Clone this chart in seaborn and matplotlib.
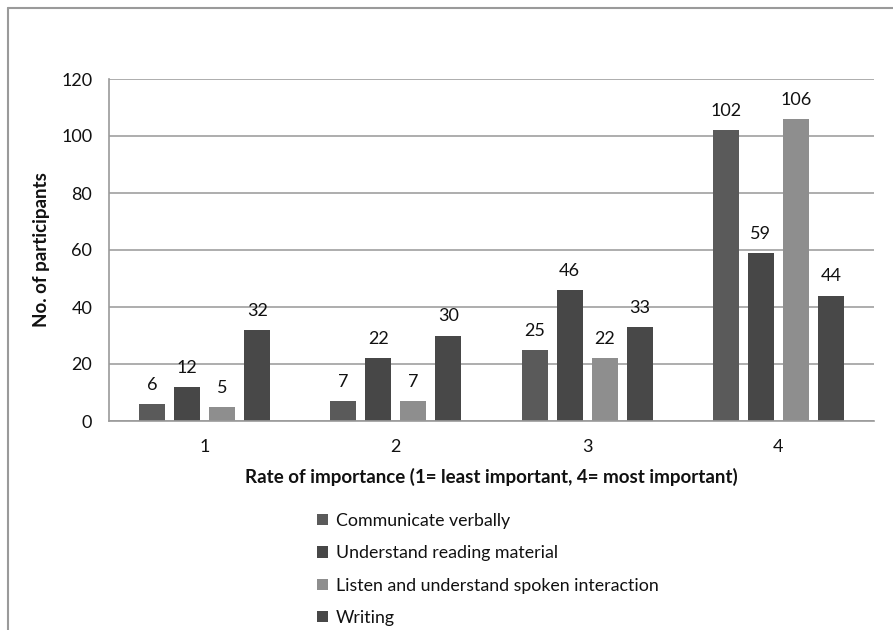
import matplotlib
matplotlib.use("Agg")
import matplotlib.pyplot as plt
from matplotlib.lines import Line2D
import seaborn as sns
import pandas as pd

categories = ["1", "2", "3", "4"]
series_names = ["Communicate verbally", "Understand reading material",
                "Listen and understand spoken interaction", "Writing"]
communicate = [6, 7, 25, 102]
reading = [12, 22, 46, 59]
listen = [5, 7, 22, 106]
writing = [32, 30, 33, 44]
colors = ["#5a5a5a", "#474747", "#8e8e8e", "#484848"]

rows = []
for name, vals in zip(series_names, [communicate, reading, listen, writing]):
    for c, v in zip(categories, vals):
        rows.append({"cat": c, "series": name, "value": v})
df = pd.DataFrame(rows)

sns.set_theme(style="white")
plt.rcParams['font.family'] = ['Lato', 'DejaVu Sans']

fig = plt.figure(figsize=(8.93, 6.3), dpi=100)
ax = fig.add_axes([109/893, 1-421/630, (874-109)/893, (421-79)/630])

sns.barplot(data=df, x="cat", y="value", hue="series", order=categories,
            hue_order=series_names, palette=colors, width=0.733, gap=0.26,
            ax=ax, legend=True, saturation=1, edgecolor="none")

for cont in ax.containers:
    ax.bar_label(cont, padding=8, fontsize=13, color="#111111")

ax.set_ylim(0, 120)
ax.set_yticks(range(0, 121, 20))
ax.yaxis.grid(True, color="#a0a0a0", linewidth=1.2)
ax.set_axisbelow(True)
for s in ["top", "right"]:
    ax.spines[s].set_visible(False)
for s in ["left", "bottom"]:
    ax.spines[s].set_color("#9a9a9a")
    ax.spines[s].set_linewidth(1.2)
ax.tick_params(axis="both", length=0, labelsize=13, colors="#111111")
ax.tick_params(axis="y", pad=12)
ax.tick_params(axis="x", pad=13)
ax.set_xlabel("Rate of importance (1= least important, 4= most important)",
              fontsize=13.5, fontweight="bold", labelpad=9, color="#111111")
ax.set_ylabel("No. of participants", fontsize=13.5, fontweight="bold",
              labelpad=8, color="#111111")

handles, labels = ax.get_legend_handles_labels()
ax.get_legend().remove()
fig.legend(handles, labels, loc="upper left",
           bbox_to_anchor=(301/893, 1-497/630), frameon=False,
           fontsize=12.8, handlelength=0.6, handleheight=0.6,
           handletextpad=0.45, labelspacing=0.92, labelcolor="#111111")

# outer chart frame (top and left edges visible)
fig.add_artist(Line2D([8/893, 1], [1-8/630, 1-8/630], color="#9a9a9a",
                      linewidth=1.5, transform=fig.transFigure))
fig.add_artist(Line2D([8/893, 8/893], [0, 1-8/630], color="#9a9a9a",
                      linewidth=1.5, transform=fig.transFigure))

fig.savefig("out.png", dpi=100)
